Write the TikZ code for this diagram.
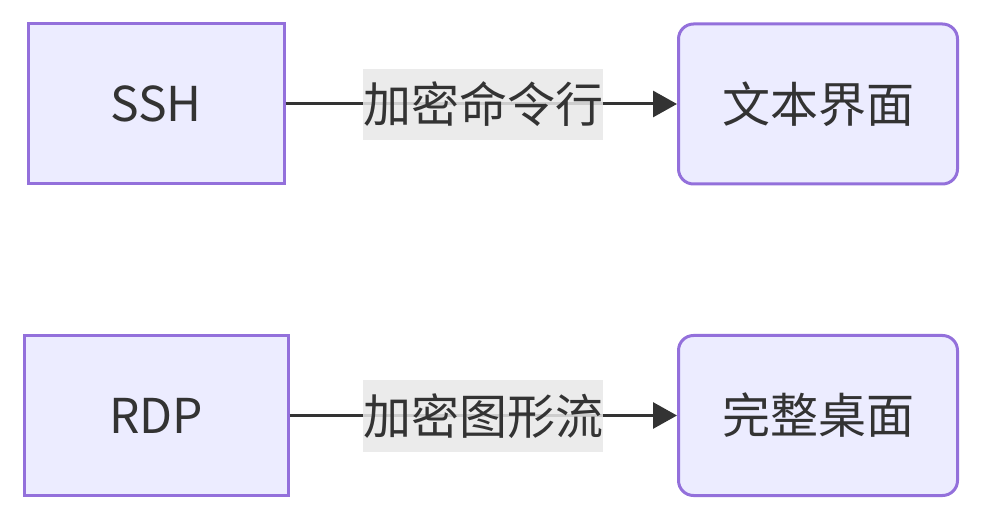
\documentclass[tikz,border=0pt]{standalone}
\usepackage{fontspec}
\setmainfont{Noto Sans CJK SC}
\usepackage{tikz}
\usetikzlibrary{arrows.meta,positioning}
\definecolor{rmink}   {HTML}{333333}
\definecolor{rmedge}  {HTML}{9370DB}
\definecolor{rmfill}  {HTML}{ECECFF}
\definecolor{rmlabel} {HTML}{E8E8E8}
\tikzset{
  rmnode/.style={draw=rmedge, fill=rmfill, line width=3pt, text=rmink,
                 minimum height=160pt, inner sep=0pt,
                 font=\fontsize{48}{58}\selectfont},
  rmsrc/.style={rmnode, minimum width=256pt},
  rmdst/.style={rmnode, minimum width=279pt, rounded corners=15pt},
  rmedgeline/.style={-{Triangle[length=24pt, width=26pt]}, draw=rmink, line width=3pt},
  rmtag/.style={fill=rmlabel, fill opacity=0.85, text opacity=1, text=rmink,
                inner xsep=0pt, minimum height=71pt,
                font=\fontsize{48}{58}\selectfont},
}

\begin{document}
\begin{tikzpicture}[x=1pt, y=-1pt]
  \useasboundingbox (0,0) rectangle (983,521);
  % two access paths: shell and desktop
  \node[rmsrc] (ssh) at (156,104) {SSH};
  \node[rmdst] (tui) at (818,104) {文本界面};
  \node[rmsrc, minimum width=264pt] (rdp) at (156,415.5) {RDP};
  \node[rmdst] (gui) at (818,415.5) {完整桌面};
  \draw[rmedgeline] (ssh) -- (tui);
  \draw[rmedgeline] (rdp) -- (gui);
  \node[rmtag] (sshtag) at (483,104.5) {加密命令行};
  \node[rmtag] (rdptag) at (483,416) {加密图形流};
\end{tikzpicture}
\end{document}
